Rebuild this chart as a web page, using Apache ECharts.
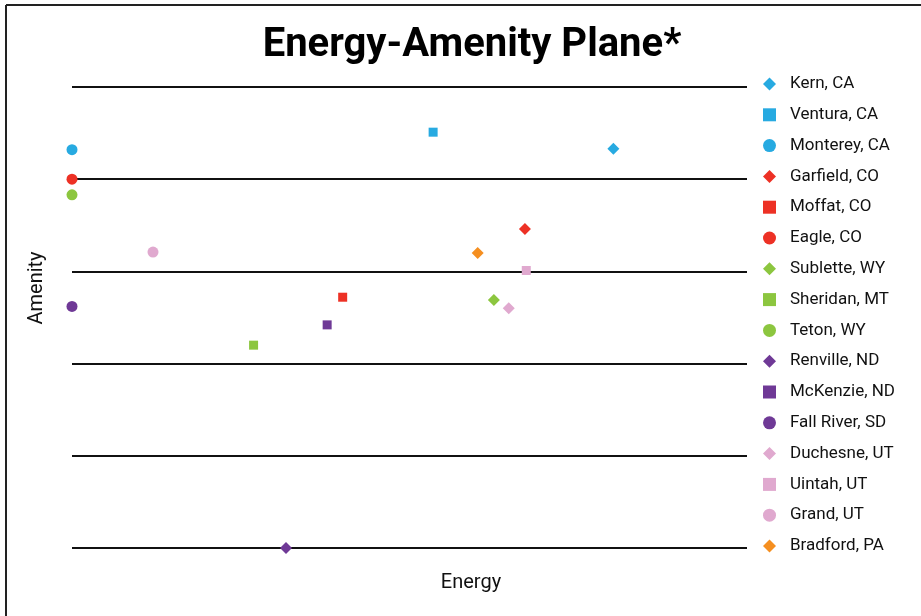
<!DOCTYPE html>
<html>
<head>
<meta charset="utf-8">
<script src="https://cdn.jsdelivr.net/npm/echarts@6/dist/echarts.min.js"></script>
<style>
html,body{margin:0;padding:0;background:#fff;}
#chart{width:921px;height:616px;}
</style>
</head>
<body>
<div id="chart"></div>
<script>
// Series (county) names in legend order
const names = ['Kern, CA','Ventura, CA','Monterey, CA','Garfield, CO','Moffat, CO','Eagle, CO',
  'Sublette, WY','Sheridan, MT','Teton, WY','Renville, ND','McKenzie, ND','Fall River, SD',
  'Duchesne, UT','Uintah, UT','Grand, UT','Bradford, PA'];
// Energy (x) values
const energy = [80.2, 53.5, 0, 67.1, 40.1, 0, 62.5, 26.9, 0, 31.7, 37.8, 0, 64.7, 67.3, 12.0, 60.1];
// Amenity (y) values
const amenity = [4.33, 4.51, 4.32, 3.46, 2.72, 4.00, 2.69, 2.20, 3.83, 0.0, 2.42, 2.62, 2.60, 3.01, 3.21, 3.20];
const symbols = ['diamond','rect','circle','diamond','rect','circle','diamond','rect','circle',
  'diamond','rect','circle','diamond','rect','circle','diamond'];
const colors = ['#27aae1','#27aae1','#27aae1','#ed3125','#ed3125','#ed3125','#8cc63f','#8cc63f','#8cc63f',
  '#6f3996','#6f3996','#6f3996','#e0a9cf','#e0a9cf','#e0a9cf','#f58f20'];
const symbolSizes = {diamond: 12, rect: 9, circle: 11};

const chart = echarts.init(document.getElementById('chart'));
const series = names.map((n, i) => ({
  name: n,
  type: 'scatter',
  symbol: symbols[i],
  symbolSize: symbolSizes[symbols[i]],
  itemStyle: {color: colors[i], opacity: 1},
  data: [[energy[i], amenity[i]]],
  clip: false,
  z: 3
}));

chart.setOption({
  animation: false,
  title: {
    text: 'Energy-Amenity Plane*',
    left: 467, top: 21, textAlign: 'center',
    textStyle: {fontFamily: 'Roboto, sans-serif',
      fontWeight: 'bold', fontSize: 40, color: '#000'}
  },
  legend: {
    orient: 'vertical', left: 758, top: 70.5,
    itemWidth: 13, itemHeight: 13, itemGap: 13.8,
    textStyle: {fontFamily: 'Roboto, sans-serif', fontSize: 17, color: '#111', padding: [0, 0, 0, 9]},
    data: names.map((n, i) => ({name: n, icon: symbols[i]}))
  },
  grid: {left: 72, right: 174, top: 87, bottom: 68},
  xAxis: {
    type: 'value', min: 0, max: 100,
    axisLine: {show: false}, axisTick: {show: false}, axisLabel: {show: false}, splitLine: {show: false}
  },
  yAxis: {
    type: 'value', min: 0, max: 5, interval: 1,
    axisLine: {show: false}, axisTick: {show: false}, axisLabel: {show: false},
    splitLine: {show: true, lineStyle: {color: '#111', width: 2}}
  },
  graphic: [
    {type: 'line', shape: {x1: 6, y1: 5, x2: 921, y2: 5}, style: {stroke: '#222', lineWidth: 2}},
    {type: 'line', shape: {x1: 6, y1: 5, x2: 6, y2: 616}, style: {stroke: '#222', lineWidth: 2}},
    {type: 'text', x: 471, y: 583, style: {text: 'Energy', fontFamily: 'Roboto, sans-serif', fontSize: 20,
      fill: '#111', textAlign: 'center', textVerticalAlign: 'middle'}},
    {type: 'text', x: 37, y: 288, rotation: Math.PI / 2, style: {text: 'Amenity', fontFamily: 'Roboto, sans-serif', fontSize: 20,
      fill: '#111', textAlign: 'center', textVerticalAlign: 'middle'}}
  ],
  series: series
});
</script>
</body>
</html>
